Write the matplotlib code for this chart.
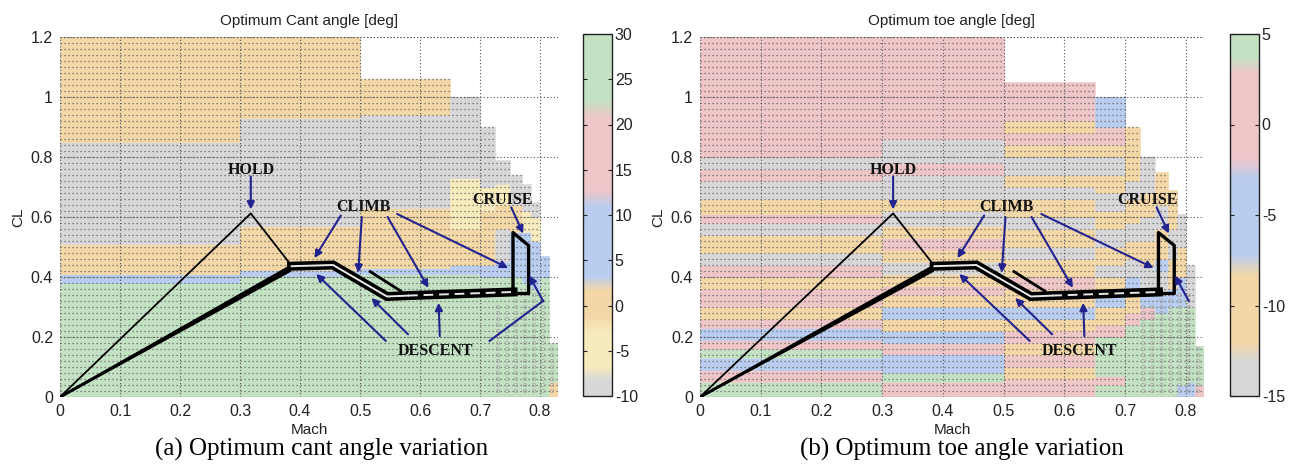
import numpy as np
import matplotlib
matplotlib.use("Agg")
import matplotlib.pyplot as plt
from matplotlib.colors import LinearSegmentedColormap, Normalize
from matplotlib.cm import ScalarMappable

plt.rcParams['font.family'] = ['Liberation Sans', 'DejaVu Sans']
plt.rcParams['axes.unicode_minus'] = False

# pastel palette used by both maps
gray = '#d7d7da'
yellow = '#f7ebbd'
orange = '#f3d7a6'
blue = '#b8cdef'
pink = '#efc6c8'
green = '#c3e2c3'

# Mach columns of the optimisation grid
mach_edges = [0.0, 0.30, 0.50, 0.65, 0.70, 0.725, 0.75, 0.77, 0.785, 0.80, 0.815, 0.83]

# optimum cant angle [deg]: CL band limits and values per Mach column
cant_breaks = [
    [0, 0.38, 0.41, 0.51, 0.85, 1.20],
    [0, 0.405, 0.425, 0.57, 0.93, 1.20],
    [0, 0.41, 0.43, 0.63, 0.94, 1.06],
    [0, 0.41, 0.44, 0.56, 0.73, 1.00],
    [0, 0.40, 0.44, 0.62, 0.70, 0.90],
    [0, 0.40, 0.45, 0.56, 0.64, 0.71, 0.79],
    [0, 0.40, 0.55, 0.64, 0.74],
    [0, 0.38, 0.55, 0.62, 0.71],
    [0, 0.36, 0.52, 0.60, 0.65],
    [0, 0.40, 0.47],
    [0, 0.05, 0.18],
]
cant_values = [
    [26, 7, 0, -10, 0],
    [26, 7, 0, -10, 0],
    [26, 7, 0, -10, 0],
    [26, 7, 0, -5, -10],
    [26, 7, 0, -5, -10],
    [26, 7, -10, 0, -5, -10],
    [26, 7, 0, -10],
    [26, 7, -5, -10],
    [26, 7, -5, -10],
    [26, 7],
    [0, 26],
]

# optimum toe angle [deg]
toe_breaks = [
    [0, .05, .09, .13, .16, .19, .23, .26, .30, .36, .40, .44, .48, .54, .58, .61, .66, .72, .76, .80, 1.2],
    [0, .05, .08, .145, .18, .22, .26, .30, .34, .37, .41, .45, .49, .53, .57, .62, .66, .74, .78, .86, 1.2],
    [0, .06, .10, .14, .18, .22, .26, .30, .36, .40, .46, .50, .56, .60, .66, .70, .74, .80, .84, .88, .92, 1.05],
    [0, .04, .07, .20, .24, .30, .34, .40, .44, .50, .56, .62, .68, .74, .80, .84, .90, 1.0],
    [0, .24, .28, .34, .40, .46, .52, .58, .66, .72, .90],
    [0, .26, .30, .36, .44, .52, .60, .68, .80],
    [0, .28, .34, .42, .46, .56, .64, .75],
    [0, .30, .36, .46, .56, .69],
    [0, .04, .30, .40, .50, .61],
    [0, .05, .30, .44],
    [0, .04, .17],
]
toe_values = [
    [4.5, 0, -5, 4.5, 0, -5, 0, -10, 0, -10, 0, -15, -10, -15, 0, -10, -15, 0, -15, 0],
    [0, 4.5, -5, 0, -5, -10, -5, -10, 0, -10, -15, -10, 0, -10, -15, -10, -15, 0, -15, 0],
    [0, -10, 0, -10, 0, -10, -5, -10, 0, -10, -15, -10, -15, -10, -15, -10, -15, -10, 0, -10, 0],
    [4.5, 0, 4.5, 0, -10, -5, -10, -15, -10, -15, -10, -15, -10, -15, -10, 0, -5],
    [4.5, 0, -10, -5, -15, -10, -15, -10, -15, -10],
    [4.5, 0, -5, -15, -10, -15, -10, -15],
    [4.5, -5, -15, -5, -10, -15, -10],
    [4.5, -5, -10, -15, -10],
    [-5, 4.5, -5, -10, -15],
    [-5, 4.5, -15],
    [0, 4.5],
]

# high-Mach grid points drawn with open markers
ring_mach = [0.73, 0.745, 0.76, 0.775, 0.79, 0.805, 0.82]
ring_cl_top = [0.30, 0.30, 0.32, 0.32, 0.34, 0.34, 0.16]

# mission segments (Mach, CL)
hold_mach = [0, 0.318, 0.385]
hold_cl = [0, 0.612, 0.44]
climb_end_mach = [0.383, 0.388, 0.392]
climb_end_cl = [0.42, 0.432, 0.445]
road_mach = [0.386, 0.455, 0.545, 0.58, 0.755]
road_cl = [0.436, 0.44, 0.335, 0.338, 0.35]
cruise_mach = [0.755, 0.755, 0.781, 0.781, 0.755]
cruise_cl = [0.35, 0.548, 0.505, 0.345, 0.345]
desc_mach = [0.517, 0.568]
desc_cl = [0.418, 0.353]

# label positions and arrows (tail -> head)
hold_xy = (0.318, 0.757)
hold_arrows = [((0.318, 0.735), (0.318, 0.625))]
climb_xy = (0.505, 0.632)
climb_arrows = [((0.468, 0.605), (0.424, 0.463)),
                ((0.503, 0.600), (0.497, 0.414)),
                ((0.546, 0.600), (0.614, 0.364)),
                ((0.562, 0.610), (0.747, 0.430))]
cruise_xy = (0.737, 0.657)
cruise_arrows = [((0.752, 0.632), (0.772, 0.545))]
descent_xy = (0.625, 0.152)
descent_arrows = [((0.543, 0.187), (0.427, 0.410)),
                  ((0.580, 0.209), (0.519, 0.330)),
                  ((0.633, 0.203), (0.631, 0.314)),
                  ((0.805, 0.320), (0.782, 0.405))]
descent_link = [(0.716, 0.187), (0.805, 0.320)]

navy = '#23238f'


def make_cmap(name, stops):
    return LinearSegmentedColormap.from_list(name, stops)


cant_cmap = make_cmap('cant', [(0.0, gray), (0.04, gray), (0.08, yellow), (0.17, yellow),
                               (0.22, orange), (0.29, orange), (0.33, blue), (0.52, blue),
                               (0.57, pink), (0.77, pink), (0.82, green), (1.0, green)])
toe_cmap = make_cmap('toe', [(0.0, gray), (0.09, gray), (0.15, orange), (0.33, orange),
                             (0.39, blue), (0.60, blue), (0.66, pink), (0.89, pink),
                             (0.94, green), (1.0, green)])


def draw_panel(ax, cax, breaks, values, cmap, vmin, vmax, cticks, title, link):
    norm = Normalize(vmin, vmax)
    for i, (b, v) in enumerate(zip(breaks, values)):
        b = np.asarray(b)
        cols = [cmap(norm(val)) for val in v]
        ax.bar(mach_edges[i], np.diff(b), width=mach_edges[i + 1] - mach_edges[i],
               bottom=b[:-1], align='edge', color=cols, edgecolor=cols, linewidth=0.4, zorder=1)

    # dotted rows of grid points inside the envelope
    tops = [b[-1] for b in breaks]
    for r in np.arange(0, 1.2001, 0.02):
        xmax = 0
        for i, t in enumerate(tops):
            if t >= r - 1e-9:
                xmax = mach_edges[i + 1]
            else:
                break
        if xmax > 0:
            ax.hlines(r, 0, xmax, colors='#666666', linewidth=0.9,
                      linestyles=(0, (1, 2.2)), zorder=2)

    for m, top in zip(ring_mach, ring_cl_top):
        rows = np.arange(0.02, top + 1e-9, 0.02)
        ax.scatter(np.full(rows.size, m), rows, s=6, facecolors='none',
                   edgecolors='#a2a2a2', linewidths=0.5, zorder=2)

    ax.set_xlim(0, 0.83)
    ax.set_ylim(0, 1.2)
    ax.set_xticks(np.arange(0, 0.81, 0.1))
    ax.set_xticklabels(['0', '0.1', '0.2', '0.3', '0.4', '0.5', '0.6', '0.7', '0.8'])
    ax.set_yticks(np.arange(0, 1.21, 0.2))
    ax.set_yticklabels(['0', '0.2', '0.4', '0.6', '0.8', '1', '1.2'])
    ax.tick_params(length=0, labelsize=11.5, pad=5, colors='#222222')
    for s in ax.spines.values():
        s.set_visible(False)
    ax.set_axisbelow(False)
    ax.grid(True, linestyle=(0, (1, 2)), color='#555555', linewidth=0.8, zorder=2.5)
    ax.axhline(1.2, color='#555555', linestyle=(0, (1, 2)), linewidth=0.8)
    ax.set_xlabel('Mach', fontsize=11, labelpad=3, color='#222222')
    ax.set_ylabel('CL', fontsize=11, labelpad=4, color='#222222')
    ax.set_title(title, fontsize=11, pad=9, color='#222222')

    # mission profile
    ax.plot(hold_mach, hold_cl, color='black', lw=1.3, zorder=5)
    for mx, cy in zip(climb_end_mach, climb_end_cl):
        ax.plot([0, mx], [0, cy], color='black', lw=1.8, zorder=5)
    ax.plot(road_mach, road_cl, color='black', lw=6.5, solid_joinstyle='miter', zorder=5)
    ax.plot(road_mach[:4], road_cl[:4], color='#e8e8e8', lw=1.4, zorder=6)
    ax.plot(road_mach[3:], road_cl[3:], color='#e8e8e8', lw=1.4,
            linestyle=(0, (5, 3)), zorder=6)
    ax.plot(cruise_mach, cruise_cl, color='black', lw=2.4, zorder=5)
    ax.plot(desc_mach, desc_cl, color='black', lw=2.0, zorder=5)

    lab = dict(family=['Liberation Serif', 'DejaVu Serif'], fontweight='bold',
               fontsize=11.5, ha='center', va='center', color='#111111', zorder=8)
    ax.text(*hold_xy, 'HOLD', **lab)
    ax.text(*climb_xy, 'CLIMB', **lab)
    ax.text(*cruise_xy, 'CRUISE', **lab)
    ax.text(*descent_xy, 'DESCENT', **lab)
    arrow = dict(arrowstyle='-|>', color=navy, lw=1.5, mutation_scale=11,
                 shrinkA=0, shrinkB=0)
    for tail, head in hold_arrows + climb_arrows + cruise_arrows + descent_arrows:
        ax.annotate('', xy=head, xytext=tail, arrowprops=arrow, zorder=7)
    if link:
        ax.plot([p[0] for p in descent_link], [p[1] for p in descent_link],
                color=navy, lw=1.5, zorder=7)

    sm = ScalarMappable(norm=norm, cmap=cmap)
    cb = plt.colorbar(sm, cax=cax)
    cb.set_ticks(cticks)
    cb.set_ticklabels([str(t) for t in cticks])
    cax.tick_params(direction='in', left=True, right=True, length=3,
                    labelsize=11.5, pad=2, colors='#222222')
    cb.outline.set_linewidth(1.0)
    cb.outline.set_edgecolor('#222222')


fig = plt.figure(figsize=(12.9, 4.71), dpi=100)
W, H = 1290, 471
ax_l = fig.add_axes([60 / W, 74 / H, 498 / W, 360 / H])
cax_l = fig.add_axes([583 / W, 75 / H, 29 / W, 362 / H])
ax_r = fig.add_axes([700 / W, 74 / H, 504 / W, 360 / H])
cax_r = fig.add_axes([1230 / W, 75 / H, 29 / W, 362 / H])

draw_panel(ax_l, cax_l, cant_breaks, cant_values, cant_cmap, -10, 30,
           [-10, -5, 0, 5, 10, 15, 20, 25, 30], 'Optimum Cant angle [deg]', True)
draw_panel(ax_r, cax_r, toe_breaks, toe_values, toe_cmap, -15, 5,
           [-15, -10, -5, 0, 5], 'Optimum toe angle [deg]', False)

cap = dict(family=['Liberation Serif', 'DejaVu Serif'], fontsize=18, ha='center', va='center')
fig.text(322 / W, 1 - 449 / H, '(a) Optimum cant angle variation', **cap)
fig.text(962 / W, 1 - 449 / H, '(b) Optimum toe angle variation', **cap)

fig.savefig('out.png', dpi=100)
